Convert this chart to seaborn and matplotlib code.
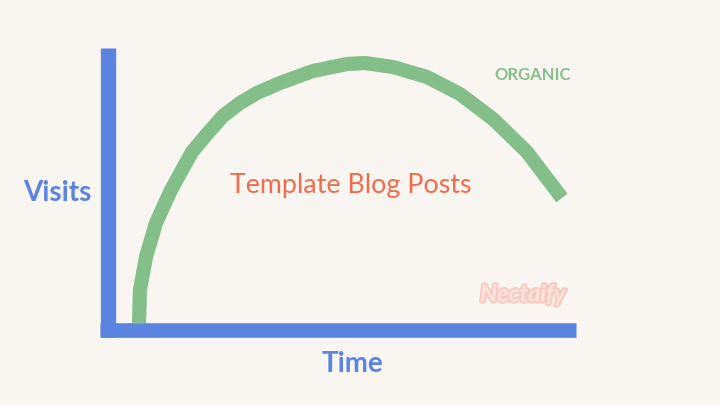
import numpy as np
import pandas as pd
import matplotlib
matplotlib.use("Agg")
import matplotlib.pyplot as plt
import matplotlib.patheffects as pe
import seaborn as sns

# curve (pixel space, y grows downward)
curve_x = [139, 140, 146, 156, 171, 192, 207, 223, 240, 257, 280, 313, 347, 365, 393, 427, 460, 493, 527, 562]
curve_y = [323, 290, 257, 223, 190, 152, 134, 116, 103, 93, 83, 71, 64, 63, 67, 77, 94, 119, 152, 198]

# axis bars
yaxis_x = [107.5, 107.5]
yaxis_y = [48, 337]
xaxis_x = [100, 576]
xaxis_y = [330, 330]

labels = {"y": "Visits", "x": "Time", "series": "ORGANIC", "title": "Template Blog Posts", "mark": "Nectaify"}

bg = "#F9F6F2"
blue = "#5B83E0"
green = "#84BF8A"
orange = "#F26B4B"

sns.set_theme(style="white")
plt.rcParams["font.family"] = ["Lato", "DejaVu Sans"]

fig = plt.figure(figsize=(7.2, 4.05), dpi=100, facecolor=bg)
ax = fig.add_axes([0, 0, 1, 1])
ax.set_facecolor(bg)
ax.set_xlim(0, 720)
ax.set_ylim(405, 0)
ax.axis("off")

df = pd.DataFrame({"x": curve_x, "y": curve_y})
sns.lineplot(data=df, x="x", y="y", sort=False, estimator=None, color=green, lw=10.2,
             solid_capstyle="butt", solid_joinstyle="round", ax=ax)

sns.lineplot(x=yaxis_x, y=yaxis_y, sort=False, estimator=None, color=blue, lw=11,
             solid_capstyle="butt", ax=ax)
sns.lineplot(x=xaxis_x, y=xaxis_y, sort=False, estimator=None, color=blue, lw=10.5,
             solid_capstyle="butt", ax=ax)

ax.text(57, 193, labels["y"], color=blue, fontsize=20, fontweight="bold", ha="center", va="center")
ax.text(352, 364, labels["x"], color=blue, fontsize=20, fontweight="bold", ha="center", va="center")
ax.text(351, 185, labels["title"], color=orange, fontsize=19.3, ha="center", va="center")
ax.text(533, 75, labels["series"], color=green, fontsize=12, fontweight="bold", ha="center", va="center")
ax.text(523, 294, labels["mark"], color="#FCE3DC", fontsize=17, fontweight="bold", style="italic",
        ha="center", va="center",
        path_effects=[pe.withStroke(linewidth=3, foreground="#F8CBC0")])

fig.savefig("out.png", dpi=100, facecolor=bg)
